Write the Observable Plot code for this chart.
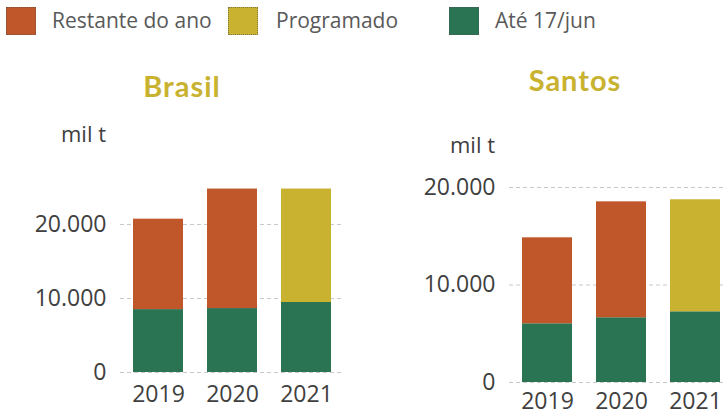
<!DOCTYPE html>
<html>
<head>
<meta charset="utf-8">
<script src="https://cdn.jsdelivr.net/npm/d3@7"></script>
<script src="https://cdn.jsdelivr.net/npm/@observablehq/plot@0.6"></script>
<style>
  html, body { margin: 0; padding: 0; background: #fff; }
  body { width: 723px; height: 416px; overflow: hidden; position: relative; font-family: "Open Sans", "Noto Sans", sans-serif; }
  .sw { position: absolute; width: 30px; height: 28px; box-sizing: border-box; border: 1px dotted rgba(80,80,80,0.6); }
  .lt { position: absolute; font-family: "Open Sans", sans-serif; font-size: 21px; color: #595959; line-height: 1; white-space: nowrap; }
  .title { position: absolute; font-family: "Lato", sans-serif; font-weight: 700; font-size: 29px; letter-spacing: 1px; color: #C8B22F; transform: translateX(-50%); line-height: 1; white-space: nowrap; }
  .unit { position: absolute; font-size: 22px; color: #404040; transform: translateX(-100%); line-height: 1; white-space: nowrap; }
</style>
</head>
<body>
<div id="root"></div>
<script>
const years = ["2019", "2020", "2021"];
const seriesNames = ["Restante do ano", "Programado", "Até 17/jun"];
const seriesColors = ["#C0572A", "#C8B22F", "#2A7353"];
const stackOrder = ["Até 17/jun", "Restante do ano", "Programado"];

const brasilAte = [8500, 8640, 9460];
const brasilRestante = [12220, 16150, null];
const brasilProgramado = [null, null, 15330];

const santosAte = [6020, 6640, 7250];
const santosRestante = [8820, 11890, null];
const santosProgramado = [null, null, 11490];

const yTicks = [0, 10000, 20000];
const fmt = d => d3.format(",")(d).replace(/,/g, ".");

function rows(ate, rest, prog) {
  const out = [];
  years.forEach((y, i) => {
    if (ate[i] != null) out.push({year: y, series: "Até 17/jun", value: ate[i]});
    if (rest[i] != null) out.push({year: y, series: "Restante do ano", value: rest[i]});
    if (prog[i] != null) out.push({year: y, series: "Programado", value: prog[i]});
  });
  return out;
}

function panel(data, yDomain, opts) {
  const plot = Plot.plot({
    width: 350,
    height: opts.height,
    marginLeft: 120,
    marginRight: 7,
    marginTop: opts.marginTop,
    marginBottom: opts.marginBottom,
    style: {fontFamily: '"Open Sans", "Noto Sans", sans-serif', fontSize: "23px", color: "#404040", background: "transparent"},
    x: {domain: years, paddingInner: 0.33, paddingOuter: 0.17, label: null, tickSize: 0, tickPadding: opts.xPad},
    y: {domain: yDomain, ticks: yTicks, tickFormat: fmt, label: null, tickSize: 0, tickPadding: 14},
    color: {domain: seriesNames, range: seriesColors},
    marks: [
      Plot.gridY(yTicks, {stroke: "#c8c8c8", strokeOpacity: 1, strokeDasharray: "4,3", strokeWidth: 1}),
      Plot.barY(data, {x: "year", y: "value", fill: "series", order: stackOrder})
    ]
  });
  plot.style.position = "absolute";
  plot.style.left = opts.left + "px";
  plot.style.top = opts.top + "px";
  plot.style.overflow = "visible";
  return plot;
}

const root = document.getElementById("root");

// Legend
const legendPos = [{sw: 6, tx: 52}, {sw: 228, tx: 276}, {sw: 449, tx: 495}];
seriesNames.forEach((name, i) => {
  const s = document.createElement("div");
  s.className = "sw";
  s.style.left = legendPos[i].sw + "px";
  s.style.top = "7px";
  s.style.background = seriesColors[i];
  root.appendChild(s);
  const t = document.createElement("div");
  t.className = "lt";
  t.textContent = name;
  t.style.left = legendPos[i].tx + "px";
  t.style.top = "10px";
  root.appendChild(t);
});

function addText(cls, text, left, top) {
  const d = document.createElement("div");
  d.className = cls;
  d.textContent = text;
  d.style.left = left + "px";
  d.style.top = top + "px";
  root.appendChild(d);
}

addText("title", "Brasil", 182, 71);
addText("title", "Santos", 575, 65);
addText("unit", "mil t", 106, 122);
addText("unit", "mil t", 495, 133);

root.appendChild(panel(rows(brasilAte, brasilRestante, brasilProgramado), [0, 25000],
  {left: 0, top: 100, height: 316, marginTop: 87, marginBottom: 44, xPad: 13}));
root.appendChild(panel(rows(santosAte, santosRestante, santosProgramado), [0, 20000],
  {left: 389, top: 150, height: 300, marginTop: 37, marginBottom: 68, xPad: 10}));
</script>
</body>
</html>
